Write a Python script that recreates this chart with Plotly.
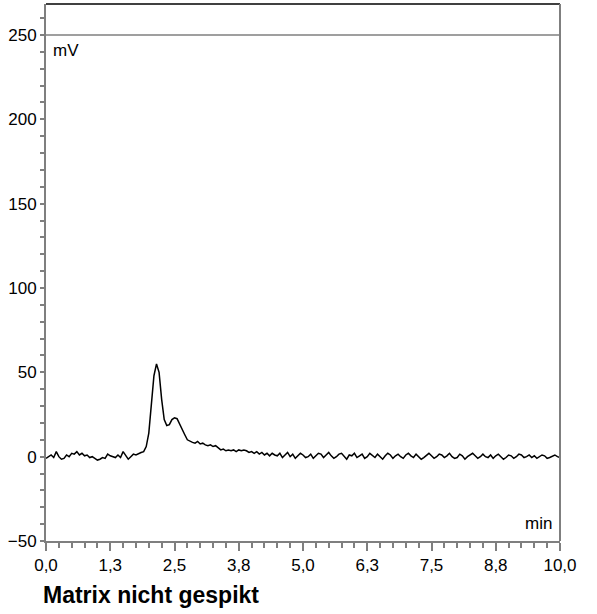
import plotly.graph_objects as go

signal_mv = [
    -1, 0, 1, -0.5, 3, 0, -1.5, -1, 1, 0,
    2, 1.5, 3, 1, 2, 0.5, 1, -0.5, 0, -1,
    -2, -1.5, -0.5, -1, 1.5, 0.5, 0, -0.5, 1, -0.5,
    3, 1, -1.5, 0, 1.5, 1, 2, 2.5, 3, 6,
    14, 30, 48, 55, 50, 34, 22, 18.5, 19, 22,
    23, 22.5, 19, 16, 13, 10, 9, 8.5, 8, 9,
    7.5, 8, 7, 6.5, 7, 6, 6.5, 5, 4, 4.5,
    3.5, 4, 3.5, 4, 3, 4, 3.5, 4, 3.5, 2.5,
    3, 2, 3, 1.5, 2.5, 1, 2, 0.5, 2, 1,
    0.5, 2, -0.5, 1, 2.5, 0, 1.5, -1, 0.5, 2,
    1, -0.5, 0, 1.5, -1, 0.5, 2, 1.5, -0.5, 1,
    2.5, 0.5, -1, 0, 1.5, 2, 0, -1.5, 1, 0.5,
    2, -0.5, 0.5, 1.5, -1, 0, 2, 1, -0.5, 1.5,
    0, -1.5, 0.5, 2, 1, -1, 0.5, 1.5, 0, -1,
    1, 2, 0.5, -0.5, 1.5, 0, -1.5, -0.5, 1, 2,
    0.5, -1, 0, 1.5, 1, -0.5, 0.5, 2, 0, -1,
    -0.5, 1.5, 0.5, -1.5, 0, 1, 2, 0.5, -1, 0,
    1.5, 0, -0.5, 1, -1, 0.5, 1.5, 0, -1.5, -0.5,
    1, 0.5, -1, 0, 1.5, 1, -0.5, 0, 1, -0.5,
    0.5, -1, 0, 1, 0.5, -1, -0.5, 0.5, 1, 0,
    -0.5,
]
time_min = [round(i * 0.05, 2) for i in range(len(signal_mv))]

x_tick_vals = [0, 1.25, 2.5, 3.75, 5.0, 6.25, 7.5, 8.75, 10.0]
x_tick_text = ["0,0", "1,3", "2,5", "3,8", "5,0", "6,3", "7,5", "8,8", "10,0"]
y_tick_vals = [-50, 0, 50, 100, 150, 200, 250]

title_text = "Matrix nicht gespikt"
y_unit = "mV"
x_unit = "min"

y_top = 268.4
axis_gray = "#7f7f7f"
font_family = "Liberation Sans, Arial, sans-serif"

fig = go.Figure()
fig.add_trace(go.Scatter(
    x=time_min, y=signal_mv, mode="lines",
    line=dict(color="black", width=1.5), showlegend=False, hoverinfo="skip",
))

fig.update_layout(
    width=597, height=614,
    margin=dict(l=46, r=37, t=4, b=73),
    plot_bgcolor="white", paper_bgcolor="white",
    font=dict(family=font_family, size=17, color="black"),
    xaxis=dict(
        range=[0, 10], tickvals=x_tick_vals, ticktext=x_tick_text,
        showgrid=False, zeroline=False, showline=True, linecolor=axis_gray, linewidth=2,
        ticks="outside", ticklen=8, tickwidth=1.5, tickcolor=axis_gray,
        minor=dict(dtick=0.25, tick0=0, ticks="outside", ticklen=5, tickwidth=1.5, tickcolor=axis_gray),
        tickfont=dict(size=17), fixedrange=True, automargin=False,
    ),
    yaxis=dict(
        range=[-50, y_top], tickvals=y_tick_vals,
        showgrid=False, zeroline=False, showline=True, linecolor=axis_gray, linewidth=2,
        ticks="outside", ticklen=4, tickwidth=1.5, tickcolor=axis_gray,
        minor=dict(dtick=10, tick0=0, ticks="outside", ticklen=4, tickwidth=1.5, tickcolor=axis_gray),
        tickfont=dict(size=17), fixedrange=True, automargin=False,
    ),
    shapes=[
        dict(type="line", xref="paper", yref="paper", x0=0, x1=1, y0=1, y1=1,
             line=dict(color="black", width=1.5)),
        dict(type="line", xref="paper", yref="y", x0=0, x1=1, y0=250, y1=250,
             line=dict(color=axis_gray, width=1.5)),
        dict(type="line", xref="paper", yref="paper", x0=1, x1=1, y0=0, y1=1,
             line=dict(color=axis_gray, width=2)),
    ],
    annotations=[
        dict(text=y_unit, xref="paper", yref="y", x=0.009, y=250, xanchor="left", yanchor="top",
             showarrow=False, font=dict(size=17), yshift=-4),
        dict(text=x_unit, xref="paper", yref="y", x=0.988, y=-50, xanchor="right", yanchor="bottom",
             showarrow=False, font=dict(size=17), yshift=6),
        dict(text="<b>" + title_text + "</b>", xref="paper", yref="paper", x=0.0, y=0,
             xanchor="left", yanchor="top", showarrow=False, font=dict(size=23), yshift=-39, xshift=-5),
    ],
)

fig.write_html("out.html", config={"displayModeBar": False},
               post_script="document.body.style.margin='0';")
